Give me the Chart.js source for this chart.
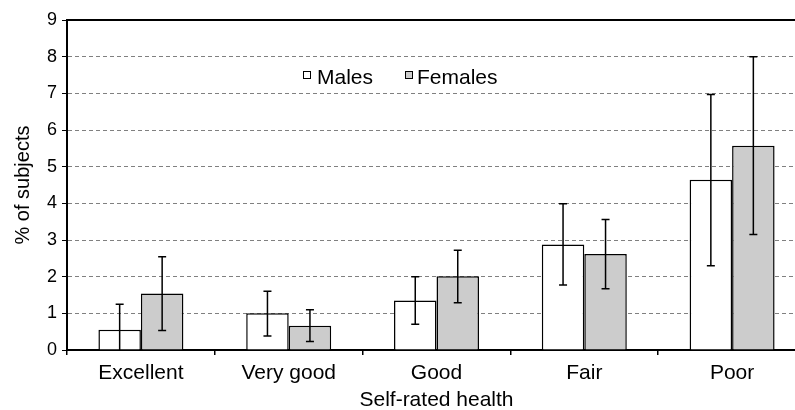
<!DOCTYPE html>
<html>
<head>
<meta charset="utf-8">
<script src="https://cdn.jsdelivr.net/npm/chart.js@4"></script>
<style>
  html, body { margin: 0; padding: 0; background: #fff; overflow: hidden; }
  #wrap { position: relative; width: 810px; height: 410px; }
  .lg-box { position: absolute; width: 6px; height: 6px; border: 1px solid #000; }
  .lg-txt { position: absolute; font: 21px "Liberation Sans", Arial, sans-serif; line-height: 21px; color: #000; }
</style>
</head>
<body>
<div id="wrap">
  <canvas id="chart" width="810" height="410"></canvas>
  <div class="lg-box" style="left:303px; top:71px; background:#fff;"></div>
  <div class="lg-txt" style="left:317px; top:66px;">Males</div>
  <div class="lg-box" style="left:405px; top:71px; background:#ccc;"></div>
  <div class="lg-txt" style="left:417px; top:66px;">Females</div>
</div>
<script>
// ── Data ──────────────────────────────────────────────────
const categories   = ["Excellent", "Very good", "Good", "Fair", "Poor"];
const males        = [0.55, 1.00, 1.35, 2.88, 4.64];
const malesHigh    = [1.25, 1.60, 2.00, 3.99, 6.97];
const malesLow     = [-0.15, 0.38, 0.70, 1.77, 2.30];
const females      = [1.54, 0.66, 2.01, 2.62, 5.57];
const femalesHigh  = [2.54, 1.10, 2.72, 3.56, 8.00];
const femalesLow   = [0.53, 0.23, 1.29, 1.67, 3.15];
const yTicks       = [0, 1, 2, 3, 4, 5, 6, 7, 8, 9];

const FONT = "'Liberation Sans', Arial, sans-serif";

// ── Error bars + frame top line ──────────────────────────
const errorBars = {
  id: "errorBars",
  afterDatasetsDraw(chart) {
    const { ctx, chartArea, scales: { y } } = chart;
    const ranges = [[malesLow, malesHigh], [femalesLow, femalesHigh]];
    ctx.save();
    ctx.beginPath();
    ctx.rect(chartArea.left, chartArea.top - 2, chartArea.right - chartArea.left, chartArea.bottom - chartArea.top + 2);
    ctx.clip();
    ctx.strokeStyle = "#000";
    ctx.lineWidth = 1.5;
    ranges.forEach(([lo, hi], di) => {
      chart.getDatasetMeta(di).data.forEach((bar, i) => {
        const x = bar.x;
        const yHi = y.getPixelForValue(hi[i]);
        const yLo = y.getPixelForValue(lo[i]);
        ctx.beginPath();
        ctx.moveTo(x, yHi); ctx.lineTo(x, yLo);
        ctx.moveTo(x - 4, yHi); ctx.lineTo(x + 4, yHi);
        ctx.moveTo(x - 4, yLo); ctx.lineTo(x + 4, yLo);
        ctx.stroke();
      });
    });
    ctx.restore();
  },
  afterDraw(chart) {
    const { ctx, chartArea } = chart;
    ctx.save();
    ctx.strokeStyle = "#000";
    ctx.lineWidth = 2;
    ctx.beginPath();
    ctx.moveTo(chartArea.left, chartArea.top);
    ctx.lineTo(chartArea.right, chartArea.top);
    ctx.stroke();
    ctx.restore();
  }
};

new Chart(document.getElementById("chart").getContext("2d"), {
  type: "bar",
  data: {
    labels: categories,
    datasets: [
      { label: "Males",   data: males,   backgroundColor: "#ffffff", borderColor: "#000", borderWidth: 1.5 },
      { label: "Females", data: females, backgroundColor: "#cccccc", borderColor: "#000", borderWidth: 1.5 },
    ]
  },
  options: {
    responsive: false,
    animation: false,
    layout: { padding: { top: 20, right: 4, left: 0, bottom: 0 } },
    datasets: { bar: { categoryPercentage: 0.575, barPercentage: 1.0 } },
    plugins: { legend: { display: false }, tooltip: { enabled: false } },
    scales: {
      x: {
        grid: { offset: true, drawOnChartArea: false, color: "#000", tickLength: 5, lineWidth: 1.5 },
        border: { color: "#000", width: 2 },
        ticks: { color: "#000", font: { family: FONT, size: 21 }, padding: 6, maxRotation: 0 },
        title: { display: true, text: "Self-rated health", color: "#000",
                 font: { family: FONT, size: 21 }, padding: { top: 0, bottom: -3 } },
        afterFit(scale) { scale.height = 60; }
      },
      y: {
        min: 0, max: 9,
        afterBuildTicks(scale) { scale.ticks = yTicks.map(v => ({ value: v })); },
        grid: { color: "#808080", tickColor: "#000", tickLength: 5, lineWidth: 1, tickBorderDash: [] },
        border: { color: "#000", width: 2, dash: [4, 3] },
        ticks: { color: "#000", font: { family: FONT, size: 18 }, padding: 5 },
        title: { display: true, text: "% of subjects", color: "#000",
                 font: { family: FONT, size: 20 }, padding: { top: 11, bottom: 0 } },
        afterFit(scale) { scale.width = 67; }
      }
    }
  },
  plugins: [errorBars]
});
</script>
</body>
</html>
